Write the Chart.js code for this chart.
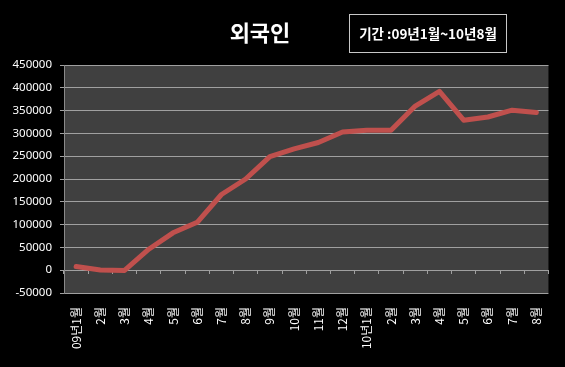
<!DOCTYPE html>
<html>
<head>
<meta charset="utf-8">
<script src="https://cdn.jsdelivr.net/npm/chart.js@4/dist/chart.umd.min.js"></script>
<style>
  html, body { margin:0; padding:0; background:#000; }
  #wrap { position:relative; width:565px; height:367px; background:#000; overflow:hidden; }
  #title { position:absolute; left:200px; width:120px; top:14px; text-align:center; color:#fff;
           font-family:"Noto Sans CJK KR","Noto Sans",sans-serif; font-weight:bold; font-size:22px; line-height:34px; }
  #period { position:absolute; left:349px; top:14px; width:156px; height:37px; border:1px solid #c8c8c8;
            color:#fff; font-family:"Noto Sans CJK KR","Noto Sans",sans-serif; font-weight:bold; font-size:13.5px;
            line-height:37px; text-align:center; box-sizing:content-box; }
  canvas { position:absolute; left:0; top:0; }
</style>
</head>
<body>
<div id="wrap">
  <canvas id="c" width="565" height="367"></canvas>
  <div id="title">외국인</div>
  <div id="period">기간 :09년1월~10년8월</div>
</div>
<script>
const categories = ["09년1월","2월","3월","4월","5월","6월","7월","8월","9월","10월","11월","12월",
                    "10년1월","2월","3월","4월","5월","6월","7월","8월"];
const foreignerValues = [8000, 500, -500, 46000, 82000, 105000, 166000, 200000, 249000, 266000,
                         280000, 303000, 307000, 307000, 360000, 392000, 329000, 336000, 351000, 346000];
const yMin = -50000, yMax = 450000, yStep = 50000;

const plotBg = {
  id: 'plotBg',
  beforeDraw(chart) {
    const {ctx, chartArea:a} = chart;
    ctx.save();
    ctx.fillStyle = '#404040';
    ctx.fillRect(a.left, a.top, a.right - a.left, a.bottom - a.top);
    ctx.restore();
  }
};

new Chart(document.getElementById('c'), {
  type: 'line',
  data: {
    labels: categories,
    datasets: [{
      label: '외국인',
      data: foreignerValues,
      borderColor: '#c0504d',
      borderWidth: 5,
      pointRadius: 0,
      tension: 0,
      fill: false,
      borderJoinStyle: 'round',
      borderCapStyle: 'round'
    }]
  },
  options: {
    responsive: false,
    animation: false,
    layout: { padding: { top: 65, right: 10, left: 0, bottom: 0 } },
    plugins: { legend: { display: false }, title: { display: false }, tooltip: { enabled: false } },
    scales: {
      x: {
        type: 'category',
        offset: true,
        grid: { display: false, drawTicks: false },
        border: { display: false },
        ticks: {
          color: '#ffffff',
          font: { family: '"Noto Sans CJK KR","Noto Sans",sans-serif', size: 12 },
          minRotation: 90, maxRotation: 90, autoSkip: false, padding: 14
        },
        afterFit(s) { s.height = 74; }
      },
      x2: {
        type: 'category',
        position: { y: 0 },
        offset: true,
        grid: { offset: true, drawOnChartArea: false, drawTicks: true, tickLength: 4, color: '#a0a0a0' },
        border: { display: false },
        ticks: { display: false }
      },
      y: {
        min: yMin, max: yMax,
        ticks: {
          stepSize: yStep,
          color: '#ffffff',
          padding: 8,
          font: { family: '"Noto Sans","Noto Sans CJK KR",sans-serif', size: 11.5 },
          callback: (v) => String(v)
        },
        grid: { color: '#a0a0a0', tickLength: 4, lineWidth: 1 },
        border: { display: true, color: '#8a8a8a' },
        afterFit(s) { s.width = 64; }
      }
    }
  },
  plugins: [plotBg]
});
</script>
</body>
</html>
